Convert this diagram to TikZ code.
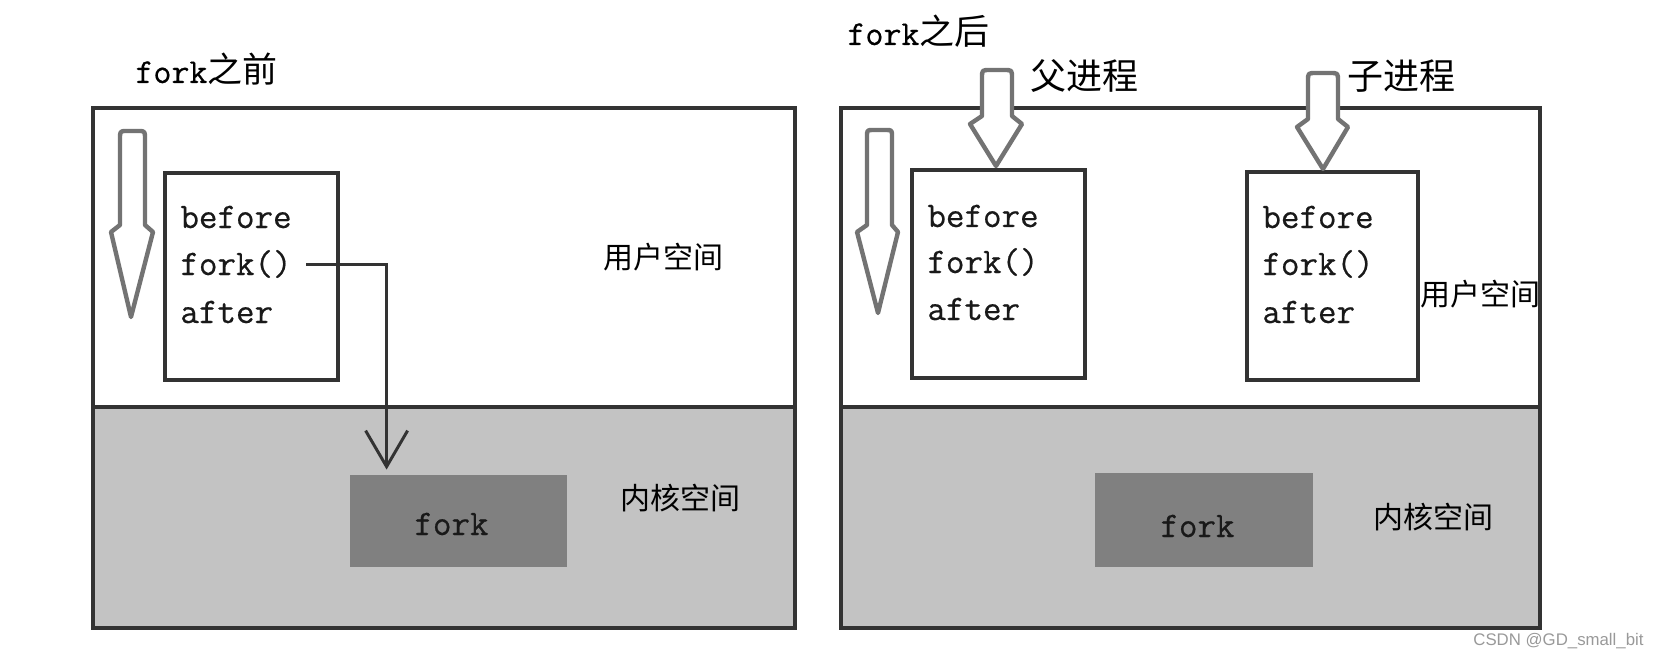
\documentclass[tikz,border=0pt]{standalone}
\usepackage{fontspec}
\newfontfamily\cjk{Noto Sans CJK SC}
\newfontfamily\wmfont{Liberation Sans}
\newfontfamily\codefont[FakeBold=0.5]{Latin Modern Mono}
\usetikzlibrary{arrows.meta,calc}
\definecolor{kspace}{HTML}{C3C3C3}
\definecolor{kfork}{HTML}{808080}
\definecolor{edge}{HTML}{333333}
\begin{document}
\begin{tikzpicture}[x=0.5pt,y=-0.5pt,
  panel/.style={draw=edge, line width=1.6pt},
  codebox/.style={draw=edge, line width=2pt, fill=white, inner sep=0pt},
  code/.style={font=\fontsize{18}{21}\selectfont\codefont, anchor=base west, inner sep=0pt, text=black!90},
  kbox/.style={fill=kfork, inner sep=0pt},
  ktext/.style={font=\fontsize{18}{21}\selectfont\codefont, anchor=base west, inner sep=0pt, text=black!90},
  blockarrow/.style={draw=black!55, line width=2.2pt, fill=white, line join=round},
  cjklabel/.style={font=\fontsize{15}{18}\selectfont\cjk, anchor=west, inner sep=0pt},
  proclabel/.style={font=\fontsize{18}{21}\selectfont\cjk, anchor=west, inner sep=0pt},
  title/.style={font=\fontsize{17.5}{20}\selectfont, anchor=base west, inner sep=0pt},
  conn/.style={draw=edge, line width=1.5pt, -{Straight Barb[length=18pt,width=21pt,line width=1.5pt]}}]
\useasboundingbox (0,0) rectangle (1656,658);

% ---------- left panel (fork之前) ----------
\fill[kspace] (93,407) rectangle (795,628);
\draw[panel] (93,108) rectangle (795,628);
\draw[panel] (93,407) -- (795,407);

\node[title] (ltitle) at (135,83) {\codefont fork\cjk 之前};

\draw[blockarrow] (120,225) -- (120,139) .. controls (120,131) .. (127,131) -- (138,131)
  .. controls (145,131) .. (145,139) -- (145,225) -- (153,232) -- (131,317) -- (111,232) -- cycle;

\node[codebox, minimum width=86.5pt, minimum height=103.5pt] (lbox) at (251.5,276.5) {};
\node[code] (lbefore) at (180,228) {before};
\node[code] (lfork) at (180,275) {fork()};
\node[code] (lafter) at (180,323) {after};

\node[cjklabel] (luser) at (603,257) {用户空间};

\node[kbox, minimum width=108.5pt, minimum height=46pt] (lkfork) at (458.5,521) {};
\node[ktext] (lktext) at (414,535) {fork};
\node[cjklabel] (lkernel) at (620,498) {内核空间};

\draw[conn] ([xshift=7pt]lfork.east) -| ($(lkfork.north west)+(37,-5)$);

% ---------- right panel (fork之后) ----------
\fill[kspace] (841,407) rectangle (1540,628);
\draw[panel] (841,108) rectangle (1540,628);
\draw[panel] (841,407) -- (1540,407);

\node[title] (rtitle) at (847,45) {\codefont fork\cjk 之后};

\draw[blockarrow] (867,225) -- (867,137) .. controls (867,130) .. (873,130) -- (886,130)
  .. controls (892,130) .. (892,137) -- (892,225) -- (898,232) -- (878,313) -- (857,232) -- cycle;

\node[codebox, minimum width=86.5pt, minimum height=104pt] (pbox) at (998.5,274) {};
\node[code] (pbefore) at (927,227) {before};
\node[code] (pfork) at (927,273) {fork()};
\node[code] (pafter) at (927,320) {after};

\node[codebox, minimum width=85.5pt, minimum height=104pt] (cbox) at (1332.5,276) {};
\node[code] (cbefore) at (1262,228) {before};
\node[code] (cfork) at (1262,275) {fork()};
\node[code] (cafter) at (1262,323) {after};

\draw[blockarrow] (982,116) -- (982,78) .. controls (982,70) .. (990,70) -- (1004,70)
  .. controls (1012,70) .. (1012,78) -- (1012,116) -- (1022,124) -- (996,166) -- (970,124) -- cycle;
\node[proclabel] (parent) at (1030,76) {父进程};

\draw[blockarrow] (1308,119) -- (1308,81) .. controls (1308,73) .. (1316,73) -- (1330,73)
  .. controls (1338,73) .. (1338,81) -- (1338,119) -- (1348,127) -- (1323,169) -- (1297,127) -- cycle;
\node[proclabel] (child) at (1347,76) {子进程};

\node[cjklabel] (ruser) at (1420,294) {用户空间};

\node[kbox, minimum width=109pt, minimum height=47pt] (rkfork) at (1204,520) {};
\node[ktext] (rktext) at (1160,537) {fork};
\node[cjklabel] (rkernel) at (1373,517) {内核空间};

\node[font=\fontsize{8.4}{10}\selectfont\wmfont, text=black!40, anchor=base west, inner sep=0pt] (wm) at (1473,645) {CSDN @GD\_small\_bit};
\end{tikzpicture}
\end{document}
